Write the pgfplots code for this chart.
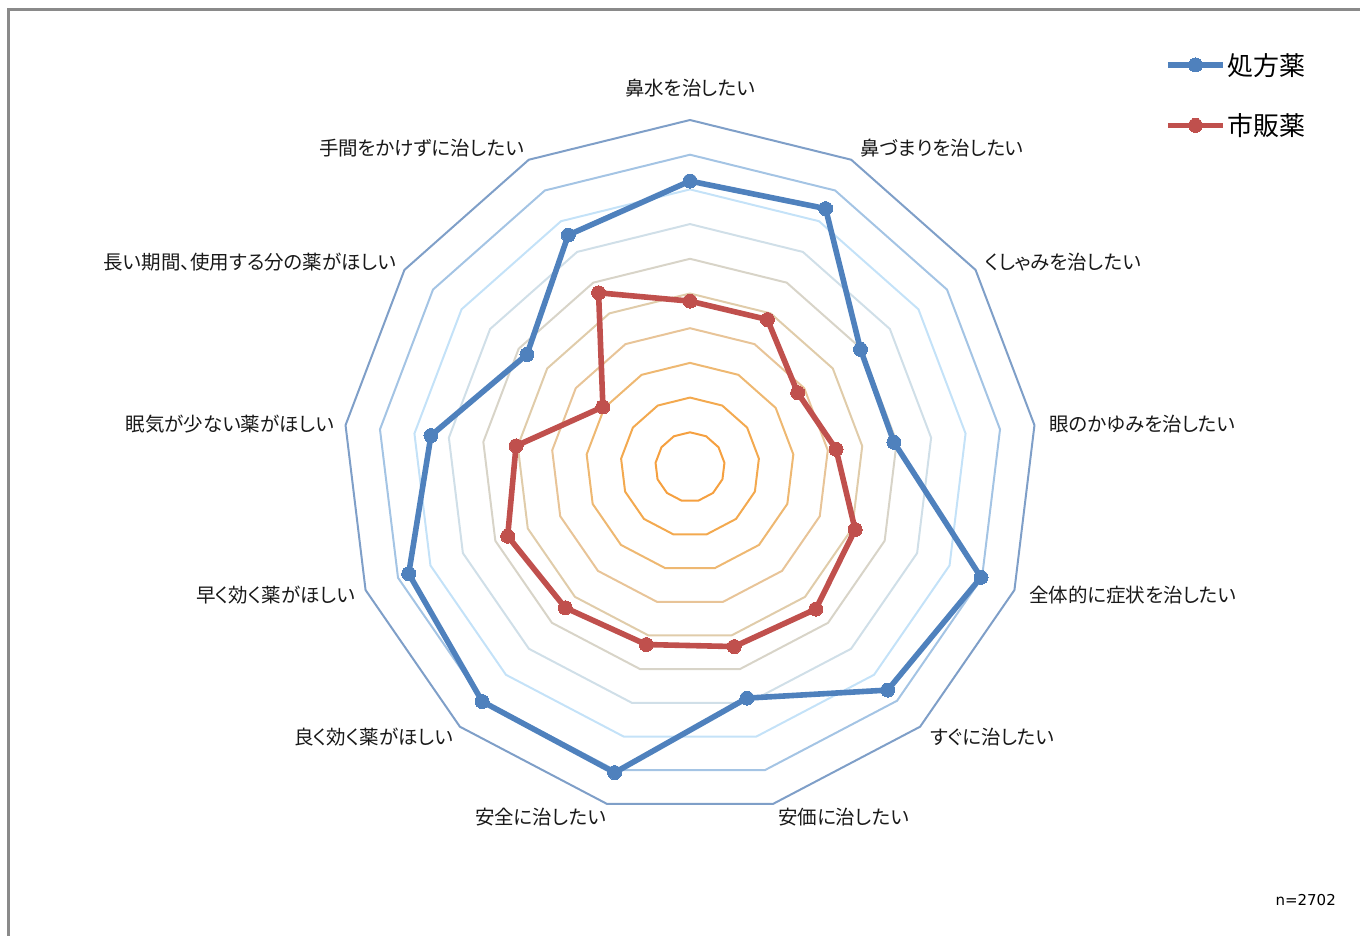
\documentclass[border=0pt]{standalone}
\usepackage{pgfplots}
\pgfplotsset{compat=1.18}
\usepgfplotslibrary{polar}
\usepackage{fontspec}
\setmainfont[RawFeature=+palt]{Noto Sans CJK JP}
\newfontfamily\dejavu{DejaVu Sans}
\definecolor{ring1}{HTML}{F5A040}
\definecolor{ring2}{HTML}{F3A94F}
\definecolor{ring3}{HTML}{EEB872}
\definecolor{ring4}{HTML}{E8C498}
\definecolor{ring5}{HTML}{E0CCAA}
\definecolor{ring6}{HTML}{D8D4C8}
\definecolor{ring7}{HTML}{D0DFE8}
\definecolor{ring8}{HTML}{C4E2F8}
\definecolor{ring9}{HTML}{A4C4E4}
\definecolor{ring10}{HTML}{7F9FC8}
\definecolor{sblue}{HTML}{4F81BD}
\definecolor{sred}{HTML}{C0504D}
\definecolor{frame}{HTML}{8A8A8A}
\begin{document}
\begin{tikzpicture}[x=1pt,y=1pt]
\path[use as bounding box] (0,0) rectangle (1360,936);
\draw[frame, line width=3pt] (8,-5) -- (8,926) -- (1370,926);
\begin{polaraxis}[
  at={(690pt,469pt)}, anchor=center,
  width=694pt, height=694pt, scale only axis,
  xmin=0, xmax=360, ymin=0, ymax=10,
  hide axis, grid=none, xtick=\empty, ytick=\empty,
  clip=false,
  legend style={draw=none, fill=none, inner sep=0pt,
    at={(1.1844,1.0965)}, anchor=north west,
    font=\fontsize{26}{30}\selectfont, row sep=37pt,
    nodes={inner xsep=2pt, inner ysep=0pt}},
  legend cell align=left,
  legend image code/.code={\draw[mark repeat=2,mark phase=2,#1] plot coordinates {(0pt,0pt) (27.5pt,0pt) (55pt,0pt)};},
]
\pgfplotsinvokeforeach{10,9,...,1}{
\addplot[ring#1, line width=2pt, mark=none, forget plot] coordinates {
(90,#1) (62.3077,#1) (34.6154,#1) (6.9231,#1) (-20.7692,#1) (-48.4615,#1) (-76.1538,#1)
(-103.8462,#1) (-131.5385,#1) (-159.2308,#1) (-186.9231,#1) (-214.6154,#1) (-242.3077,#1) (-270,#1)};
}
\addplot[sblue, line width=5.6pt, line join=round, mark=*, mark size=7pt, mark options={solid, fill=sblue, draw=sblue, line width=0pt}] coordinates {
(90,8.24) (62.3077,8.41) (34.6154,5.97) (6.9231,5.92) (-20.7692,8.97) (-48.4615,8.59) (-76.1538,6.86)
(-103.8462,9.07) (-131.5385,9.03) (-159.2308,8.67) (-186.9231,7.52) (-214.6154,5.71) (-242.3077,7.55) (-270,8.24)};
\addlegendentry{処方薬}
\addplot[sred, line width=5.6pt, line join=round, mark=*, mark size=7pt, mark options={solid, fill=sred, draw=sred, line width=0pt}] coordinates {
(90,4.78) (62.3077,4.80) (34.6154,3.77) (6.9231,4.24) (-20.7692,5.09) (-48.4615,5.47) (-76.1538,5.33)
(-103.8462,5.27) (-131.5385,5.42) (-159.2308,5.62) (-186.9231,5.05) (-214.6154,3.05) (-242.3077,5.67) (-270,4.78)};
\addlegendentry{市販薬}
\end{polaraxis}
\begin{scope}[every node/.style={inner sep=0pt, font=\fontsize{19.5}{23}\selectfont, text=black!90}]
\node[anchor=center] at (690,848) {鼻水を治したい};
\node[anchor=west] at (860,788) {鼻づまりを治したい};
\node[anchor=west] at (985,674) {くしゃみを治したい};
\node[anchor=west] at (1049,512) {眼のかゆみを治したい};
\node[anchor=west] at (1029,341) {全体的に症状を治したい};
\node[anchor=west] at (930,199) {すぐに治したい};
\node[anchor=west] at (778,119) {安価に治したい};
\node[anchor=east] at (606,119) {安全に治したい};
\node[anchor=east] at (453,199) {良く効く薬がほしい};
\node[anchor=east] at (355,341) {早く効く薬がほしい};
\node[anchor=east] at (334,512) {眠気が少ない薬がほしい};
\node[anchor=east] at (396,674) {長い期間、使用する分の薬がほしい};
\node[anchor=east] at (524,788) {手間をかけずに治したい};
\end{scope}
\node[anchor=east, inner sep=0pt, font=\dejavu\fontsize{15}{18}\selectfont] at (1336,36) {n=2702};
\end{tikzpicture}
\end{document}
